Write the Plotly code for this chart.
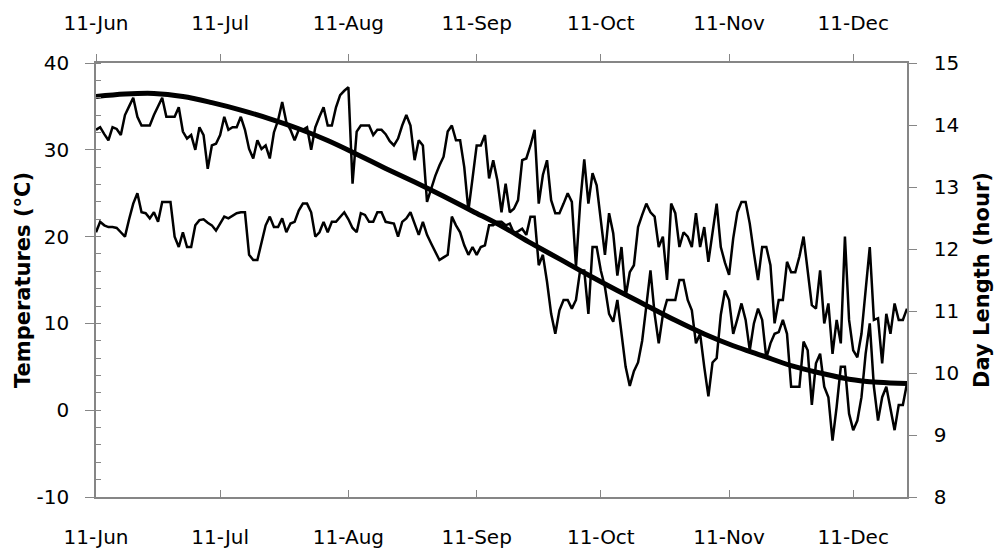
import pandas as pd
import plotly.graph_objects as go

# Daily maximum and minimum air temperature (°C), starting 11 June
t_max = [
    32.3, 32.6, 31.8, 31.1, 32.6, 32.4, 31.7, 34.0, 35.0, 36.0,
    33.8, 32.8, 32.8, 32.8, 34.0, 35.0, 36.0, 33.8, 33.8, 33.8,
    34.9, 32.1, 31.3, 31.7, 30.0, 32.6, 31.7, 27.8, 30.5, 30.7,
    31.7, 33.8, 32.3, 32.6, 32.6, 33.8, 32.3, 30.1, 29.0, 31.1,
    30.1, 30.5, 29.0, 32.0, 33.4, 35.5, 33.2, 32.3, 31.1, 32.3,
    32.3, 32.6, 30.0, 32.6, 33.8, 34.9, 32.8, 32.8, 34.9, 36.3,
    36.8, 37.2, 26.1, 32.1, 32.8, 32.8, 32.8, 31.7, 32.3,
    32.3, 31.8, 31.0, 30.5, 31.3, 32.8, 34.0, 32.8, 28.8, 31.1,
    30.5, 24.0, 25.5, 27.0, 28.2, 29.2, 32.1, 32.8, 31.1, 31.1,
    28.0, 23.0, 26.7, 30.5, 30.5, 31.7, 26.7, 28.8, 26.5, 22.8,
    26.1, 22.8, 23.2, 24.2, 28.8, 29.0, 30.5, 32.3, 23.8, 27.1,
    28.8, 24.2, 22.7, 22.7, 23.8, 25.0, 24.0, 16.5, 23.8, 28.9,
    23.8, 27.3, 25.9, 21.9, 17.9, 22.7, 20.4, 15.5, 18.8, 13.1,
    15.9, 16.7, 21.1, 22.5, 23.8, 22.8, 22.3, 18.8, 20.0, 15.0,
    23.8, 22.7, 18.8, 20.5, 20.0, 18.8, 22.7, 18.8, 21.1, 17.1,
    20.4, 23.8, 18.8, 17.0, 15.6, 19.8, 22.8, 24.0, 24.0, 21.5,
    18.1, 15.0, 18.8, 18.8, 16.7, 10.0, 12.7, 12.7, 17.1, 15.9,
    15.9, 17.7, 20.0, 15.7, 12.1, 11.7, 16.1, 10.0, 12.3, 6.5,
    10.4, 7.7, 20.0, 10.4, 6.9, 6.1, 8.8, 13.8, 18.8, 10.4,
    10.6, 5.4, 11.1, 8.8, 12.3, 10.4, 10.4, 11.7,
]
t_min = [
    20.5, 21.7, 21.3, 21.1, 21.1, 21.0, 20.5, 20.0, 22.0, 23.8,
    25.0, 22.8, 22.7, 22.1, 22.8, 21.7, 24.0, 24.0, 24.0, 20.0,
    18.8, 20.5, 18.8, 18.8, 21.3, 21.9, 22.0, 21.6, 21.3, 20.7,
    21.5, 22.3, 22.1, 22.4, 22.7, 22.8, 22.8, 17.9, 17.3, 17.3,
    19.4, 21.3, 22.3, 21.1, 21.1, 22.1, 20.5, 21.5, 21.7, 23.0,
    23.8, 23.8, 22.8, 20.0, 20.5, 21.7, 20.5, 21.7, 21.7, 22.2,
    22.8, 22.0, 21.0, 20.5, 22.7, 22.5, 21.7, 21.7, 22.8,
    22.8, 21.7, 21.6, 21.5, 20.0, 21.7, 22.1, 22.8, 21.5, 20.2,
    21.7, 20.2, 19.2, 18.2, 17.3, 17.6, 17.9, 22.3, 21.3, 20.5,
    19.0, 17.9, 18.8, 17.9, 18.8, 19.0, 21.3, 21.3, 21.7, 21.7,
    21.3, 21.5, 20.4, 20.6, 20.9, 20.2, 22.3, 22.3, 16.7, 17.9,
    14.8, 11.1, 8.8, 11.5, 12.7, 12.7, 11.7, 12.7, 16.1, 16.1,
    11.1, 18.8, 18.8, 16.1, 14.2, 11.1, 10.2, 12.7, 9.0, 5.0,
    2.8, 4.5, 5.5, 8.0, 12.0, 16.1, 11.1, 7.7, 11.0, 12.7,
    12.7, 12.7, 15.0, 15.0, 12.7, 11.5, 7.7, 8.8, 5.0, 1.6,
    5.5, 6.0, 11.0, 13.8, 12.7, 8.8, 10.5, 12.3, 10.4, 6.9,
    10.0, 11.7, 10.4, 6.0, 7.7, 8.8, 9.0, 10.4, 8.8, 2.7,
    2.7, 2.7, 7.9, 6.9, 0.6, 5.4, 6.5, 2.7, 1.5, -3.5,
    0.4, 5.0, 5.0, -0.4, -2.3, -1.2, 1.5, 6.5, 10.0, 2.7,
    -1.2, 1.5, 2.7, 0.0, -2.3, 0.6, 0.6, 3.1,
]
# Day length (hours), sampled weekly from 11 June
day_length = [
    14.46, 14.50, 14.51, 14.46, 14.36, 14.24, 14.10, 13.94, 13.75, 13.53,
    13.30, 13.08, 12.85, 12.61, 12.37, 12.10, 11.84, 11.58, 11.33, 11.09,
    10.85, 10.63, 10.44, 10.28, 10.12, 10.00, 9.90, 9.85, 9.83,
]
tick_dates = ["2011-06-11", "2011-07-11", "2011-08-11", "2011-09-11",
              "2011-10-11", "2011-11-11", "2011-12-11"]
tick_labels = ["11-Jun", "11-Jul", "11-Aug", "11-Sep", "11-Oct", "11-Nov", "11-Dec"]
temp_ticks = [-10, 0, 10, 20, 30, 40]
temp_labels = ["-10", "0", "10", "20", "30", "40"]

days = pd.date_range("2011-06-11", periods=len(t_max), freq="D")
dl_days = pd.date_range("2011-06-11", periods=len(day_length), freq="7D")
x_range = [days[0], days[-1]]

AXIS = "#868686"
FONT = "DejaVu Sans"

fig = go.Figure()
fig.add_trace(go.Scatter(x=days, y=t_max, mode="lines", name="Tmax",
                         line=dict(color="black", width=2.5)))
fig.add_trace(go.Scatter(x=days, y=t_min, mode="lines", name="Tmin",
                         line=dict(color="black", width=2.5)))
fig.add_trace(go.Scatter(x=dl_days, y=day_length, mode="lines", name="Day length",
                         line=dict(color="black", width=5, shape="spline"),
                         xaxis="x2", yaxis="y2"))
# helper trace carrying the inner half of the major left-axis ticks
fig.add_trace(go.Scatter(x=[days[0]], y=[None], mode="lines", showlegend=False,
                         hoverinfo="skip", yaxis="y3"))

tick_font = dict(family=FONT, size=20, color="black")

fig.update_layout(
    width=998, height=554,
    margin=dict(l=96, r=91, t=63, b=57),
    paper_bgcolor="white", plot_bgcolor="white",
    showlegend=False,
    font=dict(family=FONT, color="black"),
    xaxis=dict(
        type="date", range=x_range, tickvals=tick_dates, ticktext=tick_labels,
        ticks="inside", ticklen=7, tickcolor=AXIS, tickwidth=1.3,
        showline=True, linecolor=AXIS, linewidth=1.5, showgrid=False,
        zeroline=False, tickfont=tick_font, ticklabelstandoff=21,
        automargin=False,
    ),
    xaxis2=dict(
        type="date", range=x_range, tickvals=tick_dates, ticktext=tick_labels,
        overlaying="x", side="top", anchor="y",
        ticks="outside", ticklen=7, tickcolor=AXIS, tickwidth=1.3,
        showline=True, linecolor=AXIS, linewidth=1.5, showgrid=False,
        zeroline=False, tickfont=tick_font, ticklabelstandoff=16,
        automargin=False,
    ),
    yaxis=dict(
        range=[-10, 40], tickvals=temp_ticks, ticktext=temp_labels,
        ticks="outside", ticklen=9, tickcolor=AXIS, tickwidth=1.3,
        minor=dict(dtick=2, ticks="inside", ticklen=5, tickcolor=AXIS, tickwidth=1.3),
        showline=True, linecolor=AXIS, linewidth=1.5, showgrid=False,
        zeroline=False, tickfont=tick_font, ticklabelstandoff=12,
        automargin=False,
        title=dict(text="<b>Temperatures (°C)</b>", font=dict(family=FONT, size=21),
                   standoff=0),
    ),
    yaxis3=dict(
        range=[-10, 40], tickvals=temp_ticks, overlaying="y",
        side="left", anchor="x", ticks="inside", ticklen=5, tickcolor=AXIS,
        tickwidth=1.3, showticklabels=False, showline=False, showgrid=False,
        zeroline=False, automargin=False,
    ),
    yaxis2=dict(
        range=[8, 15], dtick=1, overlaying="y", side="right", anchor="x",
        ticks="outside", ticklen=8, tickcolor=AXIS, tickwidth=1.3,
        showline=True, linecolor=AXIS, linewidth=1.5, showgrid=False,
        zeroline=False, tickfont=tick_font, ticklabelstandoff=13,
        automargin=False,
        title=dict(text="<b>Day Length (hour)</b>", font=dict(family=FONT, size=21),
                   standoff=16),
    ),
)

fig.write_html("out.html")
